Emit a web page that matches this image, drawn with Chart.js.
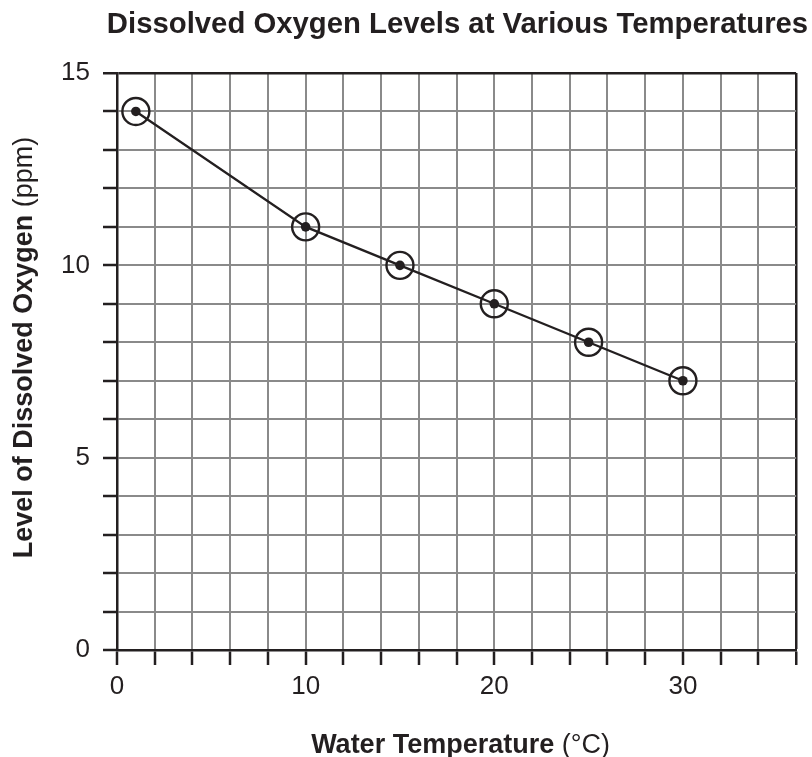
<!DOCTYPE html>
<html>
<head>
<meta charset="utf-8">
<script src="https://cdn.jsdelivr.net/npm/chart.js@4.4.1/dist/chart.umd.min.js"></script>
<style>
  html, body { margin: 0; padding: 0; background: #fff; }
  #grafico { display: block; }
</style>
</head>
<body>
<canvas id="grafico" width="812" height="757"></canvas>
<script>
// dados
const temperaturas = [1, 10, 15, 20, 25, 30];
const oxigenio = [14, 11, 10, 9, 8, 7];
const ticksX = [0, 10, 20, 30];
const ticksY = [0, 5, 10, 15];

const TITULO = 'Dissolved Oxygen Levels at Various Temperatures';
const TITULO_X = ['Water Temperature', ' (°C)'];
const TITULO_Y = ['Level of Dissolved Oxygen', ' (ppm)'];

const FONTE = '"Liberation Sans", Arial, Helvetica, sans-serif';
const CINZA = '#8a8a8a';

const pontos = temperaturas.map((t, i) => ({ x: t, y: oxigenio[i] }));

// titulo e titulos dos eixos (parte em negrito + parte normal)
const textos = {
  id: 'textos',
  afterDraw(chart) {
    const ctx = chart.ctx;
    const area = chart.chartArea;
    ctx.save();
    ctx.fillStyle = '#231f20';
    ctx.textBaseline = 'alphabetic';

    ctx.font = 'bold 29.3px ' + FONTE;
    ctx.textAlign = 'center';
    ctx.fillText(TITULO, 457.5, 33);

    ctx.textAlign = 'left';
    const negrito = 'bold 27px ' + FONTE;
    const normal = '27px ' + FONTE;

    // eixo x
    ctx.font = negrito;
    let w1 = ctx.measureText(TITULO_X[0]).width;
    ctx.font = normal;
    let w2 = ctx.measureText(TITULO_X[1]).width;
    let x0 = (area.left + area.right) / 2 + 4 - (w1 + w2) / 2;
    ctx.font = negrito;
    ctx.fillText(TITULO_X[0], x0, 753);
    ctx.font = normal;
    ctx.fillText(TITULO_X[1], x0 + w1, 753);

    // eixo y
    ctx.font = negrito;
    w1 = ctx.measureText(TITULO_Y[0]).width;
    ctx.font = normal;
    w2 = ctx.measureText(TITULO_Y[1]).width;
    ctx.translate(32, 347.5);
    ctx.rotate(-Math.PI / 2);
    x0 = -(w1 + w2) / 2;
    ctx.font = negrito;
    ctx.fillText(TITULO_Y[0], x0, 0);
    ctx.font = normal;
    ctx.fillText(TITULO_Y[1], x0 + w1, 0);
    ctx.restore();
  }
};

new Chart(document.getElementById('grafico'), {
  type: 'scatter',
  data: {
    datasets: [{
      label: 'linha',
      data: pontos,
      showLine: true,
      borderColor: '#231f20',
      borderWidth: 2.3,
      pointRadius: 4.8,
      pointBackgroundColor: '#231f20',
      pointBorderWidth: 0
    }, {
      label: 'circulos',
      data: pontos,
      showLine: false,
      pointRadius: 13.5,
      pointBorderWidth: 2.4,
      pointBorderColor: '#231f20',
      pointBackgroundColor: 'rgba(0,0,0,0)'
    }]
  },
  plugins: [textos],
  options: {
    responsive: false,
    devicePixelRatio: 1,
    animation: false,
    events: [],
    layout: { padding: { top: 73, right: 9, left: 0, bottom: 0 } },
    plugins: {
      legend: { display: false },
      title: { display: false },
      tooltip: { enabled: false }
    },
    scales: {
      x: {
        type: 'linear',
        min: 0,
        max: 36,
        afterFit: s => { s.height = 107; },
        border: { color: '#231f20', width: 2.5 },
        grid: {
          color: c => (c.tick && c.tick.value === 36) ? '#231f20' : CINZA,
          lineWidth: c => (c.tick && c.tick.value === 36) ? 2.5 : 2,
          tickColor: '#231f20',
          tickWidth: 2.5,
          tickLength: 15
        },
        ticks: {
          stepSize: 2,
          autoSkip: false,
          maxRotation: 0,
          padding: 6,
          color: '#231f20',
          font: { family: FONTE, size: 26 },
          callback: v => ticksX.includes(v) ? String(v) : ''
        }
      },
      y: {
        type: 'linear',
        min: 0,
        max: 15,
        afterFit: s => { s.width = 117; },
        border: { color: '#231f20', width: 2.5 },
        grid: {
          color: c => (c.tick && c.tick.value === 15) ? '#231f20' : CINZA,
          lineWidth: c => (c.tick && c.tick.value === 15) ? 2.5 : 2,
          tickColor: '#231f20',
          tickWidth: 2.5,
          tickLength: 14
        },
        ticks: {
          stepSize: 1,
          autoSkip: false,
          padding: 13,
          color: '#231f20',
          font: { family: FONTE, size: 26 },
          callback: v => ticksY.includes(v) ? String(v) : ''
        }
      }
    }
  }
});
</script>
</body>
</html>
